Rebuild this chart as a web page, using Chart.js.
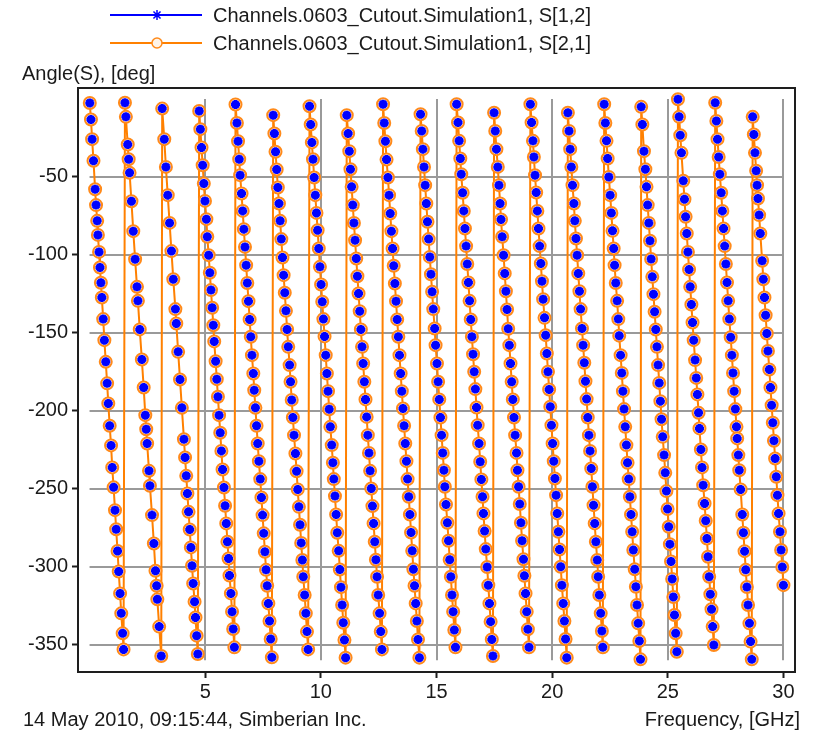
<!DOCTYPE html>
<html>
<head>
<meta charset="utf-8">
<script src="https://cdn.jsdelivr.net/npm/chart.js@4.4.1/dist/chart.umd.min.js"></script>
<style>
  html, body { margin: 0; padding: 0; background: #fff; }
</style>
</head>
<body>
<canvas id="chart" width="813" height="734"></canvas>
<script>
const seriesNames = ['Channels.0603_Cutout.Simulation1, S[1,2]', 'Channels.0603_Cutout.Simulation1, S[2,1]'];
const yTitle = 'Angle(S), [deg]';
const xTitle = 'Frequency, [GHz]';
const stamp = '14 May 2010, 09:15:44, Simberian Inc.';
const xTicks = [5, 10, 15, 20, 25, 30];
const yTicks = [-50, -100, -150, -200, -250, -300, -350];
const gridX = [0, 30];
const gridY = [-360, 0];

// frequency, GHz (one line per phase wrap)
const freq = [
  0.01, 0.06, 0.11, 0.17, 0.24, 0.28, 0.33, 0.36, 0.41, 0.45, 0.49, 0.53, 0.59, 0.64, 0.70, 0.76, 0.81, 0.87, 0.93, 0.98, 1.04, 1.10, 1.15, 1.21, 1.26, 1.32, 1.37, 1.43, 1.47,
  1.53, 1.57, 1.65, 1.69, 1.73, 1.81, 1.89, 1.97, 2.05, 2.09, 2.17, 2.26, 2.34, 2.41, 2.45, 2.49, 2.57, 2.61, 2.70, 2.78, 2.85, 2.90, 2.93, 3.01, 3.10,
  3.14, 3.23, 3.30, 3.38, 3.46, 3.54, 3.62, 3.71, 3.75, 3.83, 3.91, 3.99, 4.08, 4.13, 4.18, 4.23, 4.28, 4.33, 4.38, 4.43, 4.48, 4.54, 4.58, 4.63, 4.68,
  4.74, 4.79, 4.84, 4.89, 4.94, 4.99, 5.05, 5.09, 5.15, 5.20, 5.25, 5.30, 5.35, 5.39, 5.45, 5.50, 5.55, 5.60, 5.65, 5.70, 5.75, 5.81, 5.86, 5.91, 5.96, 6.01, 6.05, 6.11, 6.16, 6.21, 6.26,
  6.31, 6.37, 6.42, 6.47, 6.51, 6.57, 6.62, 6.67, 6.72, 6.77, 6.82, 6.87, 6.92, 6.97, 7.02, 7.08, 7.12, 7.17, 7.22, 7.27, 7.32, 7.38, 7.43, 7.48, 7.53, 7.58, 7.63, 7.68, 7.73, 7.78, 7.83, 7.88,
  7.94, 7.99, 8.04, 8.09, 8.14, 8.19, 8.24, 8.29, 8.34, 8.39, 8.44, 8.49, 8.54, 8.59, 8.65, 8.69, 8.74, 8.79, 8.84, 8.90, 8.95, 9.00, 9.05, 9.10, 9.15, 9.20, 9.24, 9.30, 9.35, 9.40, 9.45,
  9.51, 9.56, 9.61, 9.66, 9.71, 9.76, 9.81, 9.86, 9.91, 9.96, 10.01, 10.06, 10.11, 10.16, 10.21, 10.26, 10.31, 10.36, 10.41, 10.47, 10.52, 10.56, 10.61, 10.66, 10.71, 10.77, 10.82, 10.87, 10.92, 10.97, 11.02, 11.07,
  11.12, 11.18, 11.23, 11.28, 11.33, 11.38, 11.43, 11.48, 11.53, 11.58, 11.63, 11.68, 11.73, 11.78, 11.83, 11.88, 11.93, 11.98, 12.03, 12.08, 12.13, 12.18, 12.23, 12.28, 12.33, 12.38, 12.43, 12.48, 12.54, 12.59, 12.64,
  12.69, 12.74, 12.79, 12.84, 12.90, 12.95, 13.00, 13.05, 13.10, 13.15, 13.20, 13.25, 13.30, 13.35, 13.40, 13.45, 13.50, 13.55, 13.60, 13.65, 13.70, 13.75, 13.80, 13.85, 13.90, 13.95, 14.00, 14.05, 14.10, 14.15, 14.20, 14.26,
  14.31, 14.36, 14.41, 14.46, 14.51, 14.56, 14.61, 14.66, 14.71, 14.76, 14.81, 14.86, 14.92, 14.96, 15.02, 15.07, 15.12, 15.17, 15.22, 15.27, 15.32, 15.36, 15.41, 15.47, 15.52, 15.57, 15.62, 15.67, 15.72, 15.77, 15.82,
  15.87, 15.93, 15.98, 16.03, 16.07, 16.13, 16.18, 16.23, 16.28, 16.33, 16.38, 16.43, 16.48, 16.53, 16.58, 16.63, 16.68, 16.73, 16.78, 16.84, 16.89, 16.94, 16.99, 17.03, 17.08, 17.13, 17.19, 17.24, 17.29, 17.34, 17.39, 17.44,
  17.49, 17.54, 17.59, 17.65, 17.70, 17.75, 17.79, 17.84, 17.90, 17.95, 18.00, 18.05, 18.10, 18.15, 18.20, 18.25, 18.30, 18.35, 18.40, 18.46, 18.50, 18.55, 18.60, 18.65, 18.70, 18.76, 18.80, 18.85, 18.90, 18.95, 19.00,
  19.06, 19.11, 19.17, 19.21, 19.26, 19.31, 19.36, 19.41, 19.46, 19.51, 19.56, 19.61, 19.67, 19.72, 19.77, 19.82, 19.87, 19.92, 19.97, 20.02, 20.07, 20.12, 20.17, 20.22, 20.27, 20.32, 20.37, 20.42, 20.48, 20.53, 20.58, 20.63,
  20.68, 20.73, 20.78, 20.83, 20.88, 20.94, 20.98, 21.03, 21.08, 21.13, 21.18, 21.23, 21.29, 21.34, 21.39, 21.44, 21.49, 21.54, 21.59, 21.64, 21.69, 21.74, 21.79, 21.84, 21.89, 21.95, 21.99, 22.04, 22.10, 22.15, 22.19,
  22.25, 22.30, 22.35, 22.40, 22.45, 22.51, 22.56, 22.61, 22.66, 22.70, 22.75, 22.81, 22.86, 22.90, 22.96, 23.01, 23.06, 23.11, 23.16, 23.21, 23.26, 23.31, 23.36, 23.41, 23.46, 23.51, 23.57, 23.62, 23.67, 23.72, 23.77, 23.82,
  23.85, 23.90, 23.97, 24.03, 24.08, 24.13, 24.18, 24.23, 24.28, 24.33, 24.38, 24.43, 24.48, 24.53, 24.58, 24.63, 24.68, 24.73, 24.78, 24.84, 24.89, 24.94, 24.99, 25.04, 25.09, 25.14, 25.19, 25.24, 25.29, 25.34, 25.39,
  25.44, 25.49, 25.54, 25.59, 25.67, 25.72, 25.77, 25.82, 25.87, 25.92, 25.97, 26.02, 26.07, 26.12, 26.18, 26.23, 26.28, 26.33, 26.37, 26.43, 26.48, 26.53, 26.59, 26.64, 26.69, 26.74, 26.79, 26.84, 26.89, 26.94, 26.99,
  27.05, 27.10, 27.15, 27.20, 27.25, 27.31, 27.36, 27.41, 27.46, 27.51, 27.56, 27.61, 27.66, 27.72, 27.77, 27.82, 27.87, 27.92, 27.97, 28.00, 28.05, 28.09, 28.15, 28.22, 28.27, 28.32, 28.37, 28.42, 28.47, 28.53, 28.58, 28.63,
  28.67, 28.72, 28.77, 28.82, 28.86, 28.90, 28.95, 29.00, 29.08, 29.13, 29.18, 29.23, 29.28, 29.33, 29.39, 29.44, 29.49, 29.54, 29.59, 29.64, 29.69, 29.74, 29.79, 29.85, 29.90, 29.95, 30.00
];

// angle of S[1,2] = S[2,1], deg
const angle = [
  -2.6, -13.2, -25.8, -39.7, -57.9, -68.1, -78.2, -87.2, -98.1, -108.1, -117.9, -127.3, -141.2, -154.7, -168.6, -182.4, -195.3, -209.6, -222.2, -236.3, -249.1, -263.7, -276.0, -289.9, -303.1, -317.1, -329.9, -342.7, -353.0,
  -2.5, -11.5, -29.2, -38.7, -47.4, -65.6, -84.8, -102.8, -120.5, -129.5, -147.8, -167.1, -185.1, -202.8, -211.8, -221.0, -238.5, -248.1, -266.9, -285.1, -302.6, -312.2, -320.9, -338.4, -357.2,
  -6.2, -25.8, -43.6, -61.7, -79.5, -97.6, -115.6, -134.8, -144.0, -162.2, -179.9, -198.1, -218.2, -229.9, -241.7, -253.0, -264.8, -276.1, -287.6, -299.4, -310.7, -322.4, -332.5, -344.2, -356.0,
  -7.7, -19.4, -31.2, -42.5, -54.3, -65.4, -77.1, -88.4, -100.2, -111.5, -122.6, -133.9, -145.1, -155.5, -168.2, -179.7, -191.0, -202.8, -214.1, -225.7, -237.6, -249.2, -260.9, -272.2, -284.0, -294.7, -305.6, -317.1, -328.8, -339.9, -351.7,
  -3.6, -15.4, -27.1, -38.7, -48.9, -60.7, -71.8, -83.5, -94.9, -106.6, -118.0, -129.7, -141.4, -152.5, -164.3, -176.1, -186.8, -198.1, -209.6, -221.0, -232.3, -243.8, -255.6, -266.9, -278.6, -290.4, -302.0, -312.2, -323.5, -334.8, -346.3, -358.1,
  -10.4, -22.2, -33.9, -45.3, -56.8, -67.1, -78.2, -89.9, -101.7, -113.0, -124.3, -135.9, -147.8, -159.0, -170.7, -181.4, -193.0, -204.3, -215.6, -227.4, -238.8, -250.4, -261.6, -273.1, -284.7, -295.7, -306.4, -318.1, -329.9, -341.6, -353.0,
  -4.7, -16.4, -27.9, -38.7, -50.4, -61.7, -73.1, -84.2, -95.9, -107.7, -119.0, -130.1, -141.2, -152.3, -164.3, -176.1, -187.4, -199.0, -210.3, -222.0, -233.3, -243.8, -254.7, -266.5, -278.2, -289.8, -301.8, -313.1, -324.5, -335.9, -347.0, -358.3,
  -10.4, -22.2, -33.5, -45.1, -56.4, -68.1, -79.5, -90.6, -102.3, -113.7, -124.8, -136.1, -147.8, -159.0, -169.7, -181.4, -192.7, -203.9, -215.6, -227.0, -238.5, -249.8, -261.1, -272.2, -284.0, -295.5, -306.4, -318.1, -329.9, -341.6, -353.0,
  -3.4, -15.4, -27.1, -38.9, -50.4, -61.7, -73.5, -84.8, -95.9, -107.0, -118.4, -129.7, -141.4, -152.5, -164.3, -176.1, -187.4, -198.5, -209.6, -221.0, -232.3, -243.8, -255.1, -266.5, -278.0, -289.8, -301.6, -312.2, -323.5, -334.8, -346.6, -358.3,
  -9.8, -20.5, -32.2, -43.6, -55.3, -67.1, -78.8, -89.9, -101.3, -112.4, -123.7, -134.8, -147.2, -157.9, -169.7, -181.4, -192.7, -204.3, -215.6, -227.0, -238.1, -248.7, -260.1, -271.8, -283.3, -295.5, -306.4, -318.1, -328.8, -340.6, -351.7,
  -3.4, -15.1, -26.9, -38.2, -48.3, -60.2, -71.8, -83.1, -94.4, -105.9, -117.7, -129.5, -141.4, -152.5, -163.7, -175.0, -186.1, -197.9, -209.2, -221.0, -232.7, -244.0, -255.1, -265.8, -277.1, -288.7, -300.2, -311.8, -323.5, -335.2, -346.6, -357.2,
  -8.9, -20.5, -32.2, -43.6, -55.3, -67.1, -77.3, -88.4, -100.2, -111.9, -123.3, -135.0, -147.4, -157.9, -169.7, -181.4, -192.7, -204.3, -215.6, -227.0, -238.1, -248.7, -259.8, -271.8, -283.3, -295.2, -305.8, -317.1, -328.8, -340.1, -351.7,
  -3.4, -15.1, -26.9, -37.2, -48.9, -60.0, -71.8, -83.1, -94.4, -105.5, -116.9, -128.4, -140.4, -151.5, -163.3, -175.0, -186.3, -197.4, -209.2, -221.0, -232.3, -243.4, -254.1, -265.8, -277.6, -288.9, -300.0, -311.8, -323.5, -334.8, -346.3, -358.3,
  -8.9, -20.5, -32.2, -43.6, -55.3, -67.1, -78.2, -89.5, -100.2, -111.9, -123.3, -134.8, -147.2, -157.9, -169.2, -181.0, -192.5, -204.3, -215.6, -225.7, -237.0, -248.7, -260.5, -272.2, -284.0, -295.7, -306.4, -318.1, -329.9, -341.2, -351.7,
  -3.4, -15.4, -26.9, -38.2, -50.0, -61.7, -73.1, -84.6, -95.9, -106.6, -118.0, -129.5, -141.2, -151.8, -164.3, -175.7, -187.4, -198.9, -210.3, -222.0, -233.3, -243.8, -255.1, -266.5, -277.6, -289.3, -301.6, -312.8, -324.5, -336.3, -347.6, -359.4,
  -5.1, -16.4, -33.5, -45.1, -56.4, -68.1, -79.5, -91.0, -102.7, -114.1, -125.2, -136.5, -147.9, -159.0, -170.7, -182.1, -193.8, -205.4, -216.7, -228.4, -239.8, -251.5, -263.0, -274.4, -285.5, -296.6, -307.8, -319.4, -330.9, -342.7, -354.5,
  -0.2, -11.5, -23.3, -34.6, -52.5, -64.3, -75.6, -86.3, -98.1, -109.4, -120.5, -131.8, -143.4, -154.7, -167.5, -178.9, -189.5, -201.3, -211.3, -224.8, -236.3, -247.7, -259.4, -270.5, -281.9, -293.6, -306.4, -317.6, -327.3, -338.4, -350.2,
  -2.5, -14.1, -25.8, -37.2, -48.3, -60.2, -71.8, -83.1, -94.4, -105.9, -117.7, -129.5, -141.2, -152.8, -164.3, -175.7, -187.4, -198.9, -210.3, -217.7, -228.4, -238.1, -250.4, -266.5, -278.2, -290.0, -302.0, -313.0, -324.5, -336.3, -348.0, -359.4,
  -11.5, -22.8, -34.6, -46.1, -55.3, -63.9, -74.5, -86.3, -103.8, -115.6, -127.3, -138.7, -150.4, -161.6, -173.5, -185.1, -196.4, -207.7, -219.2, -230.6, -242.3, -254.1, -265.8, -277.6, -289.3, -300.2, -311.8
];

const FONT = '"Liberation Sans", Arial, sans-serif';
const TEXT = '#1a1a1a';

const points = () => freq.map((f, i) => ({ x: f, y: angle[i] }));

// grid only covers the data range, not the whole frame
const innerGrid = {
  id: 'innerGrid',
  beforeDatasetsDraw(chart) {
    const { ctx, scales: { x, y } } = chart;
    const xa = x.getPixelForValue(gridX[0]), xb = x.getPixelForValue(gridX[1]);
    const ya = y.getPixelForValue(gridY[1]), yb = y.getPixelForValue(gridY[0]);
    ctx.save();
    ctx.strokeStyle = '#9a9a9a';
    ctx.lineWidth = 2;
    ctx.beginPath();
    xTicks.forEach(v => {
      const px = Math.round(x.getPixelForValue(v));
      ctx.moveTo(px, ya); ctx.lineTo(px, yb);
    });
    yTicks.forEach(v => {
      const py = Math.round(y.getPixelForValue(v));
      ctx.moveTo(xa, py); ctx.lineTo(xb, py);
    });
    ctx.stroke();
    ctx.restore();
  }
};

// frame, titles, legend
const decor = {
  id: 'decor',
  afterDraw(chart) {
    const { ctx, chartArea: a } = chart;
    ctx.save();
    ctx.strokeStyle = '#1e1e1e';
    ctx.lineWidth = 2;
    ctx.strokeRect(a.left, a.top, a.right - a.left, a.bottom - a.top);

    ctx.fillStyle = TEXT;
    ctx.font = '20px ' + FONT;
    ctx.textBaseline = 'alphabetic';
    ctx.textAlign = 'left';
    ctx.fillText(yTitle, 22, 80);
    ctx.fillText(stamp, 23, 726);
    ctx.textAlign = 'right';
    ctx.fillText(xTitle, 800, 726);

    chart.data.datasets.forEach((ds, i) => {
      const ly = 15 + i * 28;
      ctx.strokeStyle = ds.borderColor;
      ctx.lineWidth = 2;
      ctx.beginPath();
      ctx.moveTo(110, ly);
      ctx.lineTo(202, ly);
      ctx.stroke();
      ctx.fillStyle = ds.pointBackgroundColor;
      ctx.strokeStyle = ds.pointBorderColor;
      ctx.lineWidth = 1.5;
      Chart.helpers.drawPoint(ctx, { pointStyle: ds.pointStyle, radius: 5, borderWidth: 1.5, rotation: 0 }, 157, ly);
      ctx.fillStyle = TEXT;
      ctx.textAlign = 'left';
      ctx.fillText(ds.label, 213, ly + 7);
    });
    ctx.restore();
  }
};

const tickFont = { family: FONT, size: 20 };

new Chart(document.getElementById('chart'), {
  type: 'line',
  data: {
    datasets: [
      {
        label: seriesNames[0],
        data: points(),
        showLine: false,
        borderColor: '#0000ff',
        pointStyle: 'star',
        pointRadius: 4.5,
        pointBorderWidth: 3,
        pointBorderColor: '#0000ff',
        pointBackgroundColor: '#0000ff'
      },
      {
        label: seriesNames[1],
        data: points(),
        borderColor: '#ff8000',
        borderWidth: 2,
        pointStyle: 'circle',
        pointRadius: 6,
        pointBorderWidth: 2,
        pointBorderColor: '#ff8a1a',
        pointBackgroundColor: '#fff4e8'
      }
    ]
  },
  options: {
    responsive: false,
    animation: false,
    events: [],
    layout: { padding: { top: 88, right: 18, left: 0, bottom: 0 } },
    plugins: { legend: { display: false }, tooltip: { enabled: false } },
    scales: {
      x: {
        type: 'linear',
        min: -0.5,
        max: 30.5,
        afterBuildTicks: s => { s.ticks = xTicks.map(v => ({ value: v })); },
        afterFit: s => { s.height = 62; },
        border: { display: false },
        grid: { drawOnChartArea: false, drawTicks: true, tickLength: 6, tickWidth: 2, tickColor: '#1e1e1e' },
        ticks: { font: tickFont, color: TEXT, padding: 2, maxRotation: 0, autoSkip: false }
      },
      y: {
        type: 'linear',
        min: -367.5,
        max: 7,
        afterBuildTicks: s => { s.ticks = yTicks.map(v => ({ value: v })); },
        afterFit: s => { s.width = 78; },
        border: { display: false },
        grid: { drawOnChartArea: false, drawTicks: true, tickLength: 6, tickWidth: 2, tickColor: '#1e1e1e' },
        ticks: { font: tickFont, color: TEXT, padding: 4, autoSkip: false }
      }
    }
  },
  plugins: [innerGrid, decor]
});
</script>
</body>
</html>
